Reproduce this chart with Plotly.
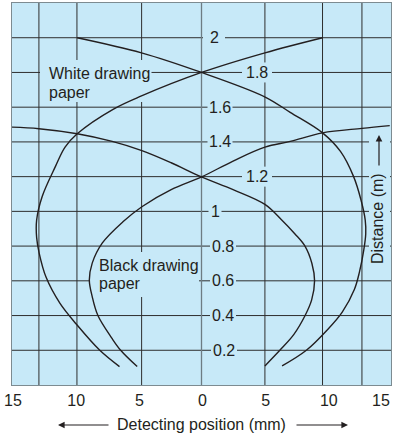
import plotly.graph_objects as go

# ---- data -------------------------------------------------------------
x_tick_vals = [-15, -10, -5, 0, 5, 10, 15]
x_tick_text = ["15", "10", "5", "0", "5", "10", "15"]

# vertical rulings of the chart paper (mm) and horizontal rulings (m)
x_rulings = [-12.87, -9.86, -4.74, 5.02, 9.58, 12.7]
y_rulings = [0.2, 0.4, 0.6, 0.8, 1.0, 1.2, 1.4, 1.6, 1.8, 2.0]
y_labels = ["0.2", "0.4", "0.6", "0.8", "1", "1.2", "1.4", "1.6", "1.8", "2"]

# white drawing paper: two mirror boundaries crossing at 1.8 m
white_a_x = [-9.84, -4.75, 0, 5.0, 7.02, 9.58, 11.0, 12.04, 12.62, 12.96, 13.0,
             12.85, 12.5, 12.1, 11.14, 9.95, 8.3, 6.38]
white_a_y = [2.0, 1.913, 1.8, 1.66, 1.57, 1.452, 1.345, 1.2, 1.067, 0.95, 0.87,
             0.78, 0.65, 0.55, 0.42, 0.317, 0.2, 0.11]
white_b_x = [9.58, 5.02, 0, -4.75, -7.0, -9.84, -10.8, -11.56, -12.61, -13.05, -13.05,
             -12.85, -12.3, -11.2, -9.9, -8.05, -6.49]
white_b_y = [2.0, 1.913, 1.8, 1.665, 1.588, 1.447, 1.37, 1.259, 1.086, 0.95, 0.85,
             0.76, 0.62, 0.47, 0.35, 0.2, 0.106]

# black drawing paper: two mirror boundaries crossing at 1.2 m
black_a_x = [-15.0, -12.87, -9.84, -7.07, -4.72, -2.4, 0, 2.5, 5.02, 6.33, 7.4,
             8.19, 8.74, 8.95, 8.72, 8.2, 7.3, 6.2, 5.02]
black_a_y = [1.485, 1.476, 1.447, 1.403, 1.35, 1.28, 1.198, 1.125, 1.04, 0.952, 0.87,
             0.8, 0.7, 0.6, 0.49, 0.4, 0.29, 0.2, 0.11]
black_b_x = [14.9, 12.7, 9.58, 7.02, 5.02, 2.5, 0, -2.4, -4.69, -6.22, -7.86,
             -8.65, -8.88, -8.65, -8.2, -7.1, -6.4, -5.09]
black_b_y = [1.494, 1.478, 1.452, 1.403, 1.37, 1.29, 1.198, 1.125, 1.028, 0.94, 0.817,
             0.702, 0.605, 0.509, 0.4, 0.27, 0.2, 0.106]

# ---- layout geometry ----------------------------------------------------
W, H = 393, 439
ML, MR, MT, MB = 12, 2, 3, 54
X0, X1 = -15, 15
Y0, Y1 = 0, 2.2
PL, PR, PT, PB = ML, W - MR, MT, H - MB

BG = "#c7e9f8"
INK = "#231f20"
RULE = "#2e2e2e"
FONT = "Liberation Sans, Arial, sans-serif"


def dx(px):
    """pixel column -> x data value"""
    return X0 + (px - PL) / (PR - PL) * (X1 - X0)


def dy(py):
    """pixel row -> y data value"""
    return Y0 + (PB - py) / (PB - PT) * (Y1 - Y0)


def paper_y(py):
    """pixel row -> paper fraction (may be below the plot)"""
    return (PB - py) / (PB - PT)


fig = go.Figure()

for xs, ys in [(white_a_x, white_a_y), (white_b_x, white_b_y),
               (black_a_x, black_a_y), (black_b_x, black_b_y)]:
    fig.add_trace(go.Scatter(
        x=xs, y=ys, mode="lines",
        line=dict(color=INK, width=1.4, shape="spline", smoothing=1.0),
        hoverinfo="skip", showlegend=False,
    ))

shapes = []
# paper rulings
for xv in x_rulings:
    shapes.append(dict(type="line", xref="x", yref="y", x0=xv, x1=xv, y0=Y0, y1=Y1,
                       line=dict(color=RULE, width=1), layer="below"))
for yv in y_rulings:
    shapes.append(dict(type="line", xref="x", yref="y", x0=X0, x1=X1, y0=yv, y1=yv,
                       line=dict(color=RULE, width=1), layer="below"))
shapes.append(dict(type="line", xref="x", yref="y", x0=0, x1=0, y0=Y0, y1=Y1,
                   line=dict(color="#6d7c83", width=1.3), layer="below"))

# label centre (pixels) and cleared width for each distance value
label_cx = {"2": 214, "1.8": 257, "1.6": 220, "1.4": 220, "1.2": 257, "1": 215,
            "0.8": 223, "0.6": 223, "0.4": 223, "0.2": 224}
label_w = {"2": 22, "1.8": 30, "1.6": 25, "1.4": 25, "1.2": 30, "1": 13,
           "0.8": 26, "0.6": 26, "0.4": 26, "0.2": 26}


def clear_box(x_left_px, x_right_px, y_top_px, y_bot_px):
    shapes.append(dict(type="rect", xref="x", yref="y",
                       x0=dx(x_left_px), x1=dx(x_right_px),
                       y0=dy(y_bot_px), y1=dy(y_top_px),
                       fillcolor=BG, line=dict(width=0), layer="below"))


annotations = []
for yv, lab in zip(y_rulings, y_labels):
    cx = label_cx[lab]
    cy = PB - (yv - Y0) / (Y1 - Y0) * (PB - PT)
    clear_box(cx - label_w[lab] / 2, cx + label_w[lab] / 2, cy - 10, cy + 10)
    annotations.append(dict(x=dx(cx), y=yv, xref="x", yref="y", text=lab,
                            showarrow=False, xanchor="center", yanchor="middle",
                            font=dict(family=FONT, size=16, color=INK)))

# callout labels
clear_box(40, 151.5, 60, 102)
clear_box(89, 199, 252, 297)
clear_box(369, 390, 131, 268)

for txt, lx, ly in [("White drawing", 46.5, 73), ("paper", 46.5, 92),
                    ("Black drawing", 97, 265), ("paper", 97, 283)]:
    annotations.append(dict(x=dx(lx), y=dy(ly), xref="x", yref="y", text=txt,
                            showarrow=False, xanchor="left", yanchor="middle",
                            font=dict(family=FONT, size=16, color=INK)))

# distance axis title inside the plot, with upward arrow
annotations.append(dict(x=dx(377), y=dy(219), xref="x", yref="y", text="Distance (m)",
                        textangle=-90, showarrow=False, xanchor="center",
                        yanchor="middle", font=dict(family=FONT, size=16, color=INK)))
annotations.append(dict(x=dx(379), y=dy(135), xref="x", yref="y", text="",
                        showarrow=True, ax=0, ay=32, arrowhead=2, arrowsize=1.1,
                        arrowwidth=1.2, arrowcolor=INK))

# horizontal axis title with arrows both ways
ty = paper_y(425)
annotations.append(dict(x=0, y=ty, xref="x", yref="paper", text="Detecting position (mm)",
                        showarrow=False, xanchor="center", yanchor="middle",
                        font=dict(family=FONT, size=16, color=INK)))
annotations.append(dict(x=dx(58), y=ty, xref="x", yref="paper", text="",
                        showarrow=True, ax=52, ay=0, arrowhead=2, arrowsize=1.1,
                        arrowwidth=1.2, arrowcolor=INK))
annotations.append(dict(x=dx(348), y=ty, xref="x", yref="paper", text="",
                        showarrow=True, ax=-53, ay=0, arrowhead=2, arrowsize=1.1,
                        arrowwidth=1.2, arrowcolor=INK))

# the right-most position label sits against the page edge
annotations.append(dict(x=x_tick_vals[-1], y=paper_y(400), xref="x", yref="paper",
                        text=x_tick_text[-1], showarrow=False, xanchor="right",
                        yanchor="middle", xshift=1,
                        font=dict(family=FONT, size=16, color=INK)))

fig.update_layout(
    width=W, height=H,
    margin=dict(l=ML, r=MR, t=MT, b=MB, pad=0, autoexpand=False),
    paper_bgcolor="white", plot_bgcolor=BG,
    shapes=shapes, annotations=annotations,
    font=dict(family=FONT, size=16, color=INK),
    xaxis=dict(range=[X0, X1], tickvals=x_tick_vals[:-1], ticktext=x_tick_text[:-1],
               showgrid=False, zeroline=False, ticks="", ticklabelstandoff=1,
               ticklabelshift=1, automargin=False,
               showline=True, linecolor="#7d8b91", linewidth=1.2, mirror=True,
               tickfont=dict(family=FONT, size=16, color=INK), fixedrange=True),
    yaxis=dict(range=[Y0, Y1], showticklabels=False, showgrid=False, zeroline=False,
               ticks="", showline=True, linecolor="#7d8b91", linewidth=1.2,
               mirror=True, fixedrange=True, automargin=False),
)

fig.write_html("out.html")
